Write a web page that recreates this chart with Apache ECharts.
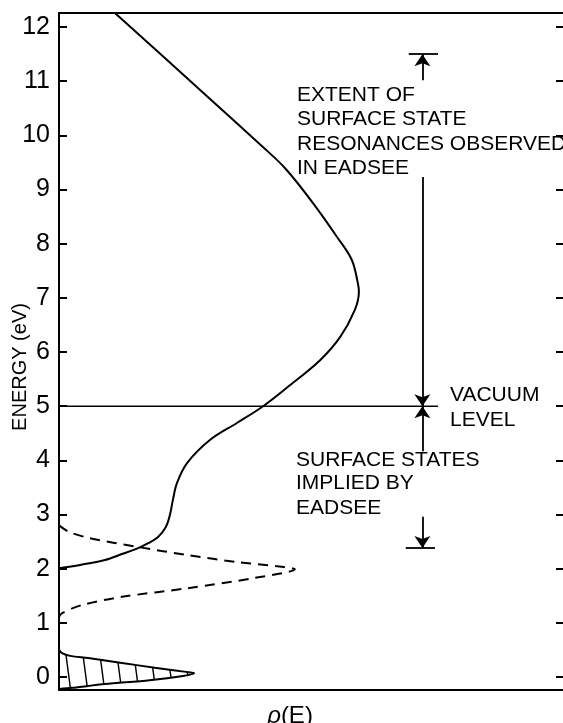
<!DOCTYPE html>
<html><head><meta charset="utf-8">
<script src="https://cdn.jsdelivr.net/npm/echarts@6/dist/echarts.min.js"></script>
<style>html,body{margin:0;padding:0;background:#fff}#c{width:563px;height:723px}</style>
</head><body><div id="c"></div>
<script>
// ---- data ----
const energyTicks = [0,1,2,3,4,5,6,7,8,9,10,11,12];
// solid DOS curve: [rho, energy]
const mainCurve = [[1.11,12.26],[2.80,10.84],[4.03,9.80],[4.50,9.38],[5.04,8.75],[5.52,8.12],[5.81,7.70],[5.93,7.27],[5.95,7.11],[5.87,6.78],[5.58,6.28],[5.18,5.85],[4.52,5.34],[4.05,5.00],[3.53,4.69],[3.00,4.38],[2.54,3.95],[2.34,3.58],[2.26,3.27],[2.20,2.99],[2.12,2.77],[1.96,2.58],[1.77,2.47],[1.57,2.38],[1.25,2.27],[0.91,2.16],[0.42,2.07],[0,2.01]];
// dashed surface-state peak
const dashedCurve = [[0,2.80],[0.2,2.68],[0.58,2.57],[1.57,2.40],[2.56,2.25],[3.55,2.12],[4.29,2.05],[4.68,1.99],[3.89,1.83],[2.56,1.64],[1.25,1.48],[0.46,1.33],[0.06,1.18],[0,1.11]];
// hatched occupied band
const hatchTop = [[0,0.50],[0.06,0.44],[0.22,0.39],[0.58,0.35],[1.25,0.26],[1.90,0.17],[2.56,0.09],[2.68,0.07]];
const hatchBottom = [[2.46,0.02],[1.80,-0.06],[0.91,-0.13],[0.26,-0.20],[0,-0.22]];
const vacuumLevel = 5;
const resonanceRange = [5, 11.5];
const surfaceStateRange = [2.38, 5];

// ---- layout constants ----
const FONT = '"Liberation Sans", Arial, sans-serif';
const arrowX = 7.21;
const barHalf = 0.27;
const vacLineEnd = 7.52;

const hatchShape = hatchTop.concat(hatchBottom);

// hatch pattern
const W = 17, H = 128;
const cv = document.createElement('canvas');
cv.width = W; cv.height = H;
const cx = cv.getContext('2d');
cx.strokeStyle = '#000'; cx.lineWidth = 1.4;
for (let k = -2; k <= 1; k++) {
  cx.beginPath();
  cx.moveTo(13 + k*W, 0);
  cx.lineTo(13 + (k+1)*W, H);
  cx.stroke();
}

const chart = echarts.init(document.getElementById('c'), null, {renderer:'canvas'});
const blackLine = {color:'#000', width:2};
const option = {
  animation: false,
  backgroundColor: '#fff',
  grid: {left:59, right:0, top:13, bottom:33, containLabel:false},
  xAxis: [
    {type:'value', min:0, max:10, position:'bottom', axisLine:{show:true, onZero:false, lineStyle:blackLine}, axisTick:{show:false}, axisLabel:{show:false}, splitLine:{show:false}},
    {type:'value', min:0, max:10, position:'top', axisLine:{show:true, onZero:false, lineStyle:blackLine}, axisTick:{show:false}, axisLabel:{show:false}, splitLine:{show:false}}
  ],
  yAxis: [
    {type:'value', min:-0.24, max:12.26, position:'left',
     axisLine:{show:true, onZero:false, lineStyle:blackLine},
     axisTick:{show:true, inside:true, length:8, customValues:energyTicks, lineStyle:blackLine},
     axisLabel:{show:true, customValues:energyTicks, margin:9, fontSize:25, fontFamily:FONT, color:'#000'},
     splitLine:{show:false}},
    {type:'value', min:-0.24, max:12.26, position:'right',
     axisLine:{show:false, onZero:false},
     axisTick:{show:true, inside:true, length:7, customValues:energyTicks, lineStyle:blackLine},
     axisLabel:{show:false}, splitLine:{show:false}}
  ],
  series: [
    {type:'custom', coordinateSystem:'cartesian2d', data:hatchShape, z:1, silent:true,
     encode:{x:0, y:1},
     renderItem: function(params, api){
       if (params.dataIndex !== 0) return null;
       const pts = hatchShape.map(p => api.coord(p));
       return {type:'polygon', shape:{points:pts}, style:{fill:{image:cv, repeat:'repeat'}, stroke:null}};
     }},
    {type:'line', data:hatchShape, showSymbol:false, smooth:0.3, lineStyle:{color:'#000', width:2}, z:3, silent:true},
    {type:'line', data:mainCurve, showSymbol:false, smooth:0.35, lineStyle:{color:'#000', width:2}, z:3, silent:true},
    {type:'line', data:dashedCurve, showSymbol:false, smooth:0.3, lineStyle:{color:'#000', width:2, type:[10,7]}, z:3, silent:true},
    {type:'line', data:[[0,vacuumLevel],[vacLineEnd,vacuumLevel]], showSymbol:false, lineStyle:{color:'#000', width:1.5}, z:3, silent:true,
     markLine:{silent:true, symbol:['none','arrow'], symbolSize:12, label:{show:false},
       lineStyle:{color:'#000', width:1.8, type:'solid'},
       data:[
         [{coord:[arrowX, 11.02], symbol:'none'}, {coord:[arrowX, resonanceRange[1]], symbol:'arrow'}],
         [{coord:[arrowX, 9.23], symbol:'none'}, {coord:[arrowX, resonanceRange[0]], symbol:'arrow'}],
         [{coord:[arrowX, 4.17], symbol:'none'}, {coord:[arrowX, surfaceStateRange[1]], symbol:'arrow'}],
         [{coord:[arrowX, 2.96], symbol:'none'}, {coord:[arrowX, surfaceStateRange[0]], symbol:'arrow'}],
         [{coord:[arrowX-barHalf, resonanceRange[1]], symbol:'none'}, {coord:[arrowX+barHalf+0.04, resonanceRange[1]], symbol:'none'}],
         [{coord:[arrowX-barHalf-0.06, surfaceStateRange[0]], symbol:'none'}, {coord:[arrowX+barHalf-0.02, surfaceStateRange[0]], symbol:'none'}]
       ]}}
  ],
  graphic: {elements: [
    {type:'text', x:297, y:95.5, style:{text:'EXTENT OF', font:'21px '+FONT, fill:'#000', textAlign:'left', textVerticalAlign:'middle'}},
    {type:'text', x:297, y:119.5, style:{text:'SURFACE STATE', font:'21px '+FONT, fill:'#000', textAlign:'left', textVerticalAlign:'middle'}},
    {type:'text', x:297, y:144, style:{text:'RESONANCES OBSERVED', font:'21px '+FONT, fill:'#000', textAlign:'left', textVerticalAlign:'middle'}},
    {type:'text', x:297, y:168, style:{text:'IN EADSEE', font:'21px '+FONT, fill:'#000', textAlign:'left', textVerticalAlign:'middle'}},
    {type:'text', x:450, y:395.5, style:{text:'VACUUM', font:'21px '+FONT, fill:'#000', textAlign:'left', textVerticalAlign:'middle'}},
    {type:'text', x:450, y:420.5, style:{text:'LEVEL', font:'21px '+FONT, fill:'#000', textAlign:'left', textVerticalAlign:'middle'}},
    {type:'text', x:296, y:460.5, style:{text:'SURFACE STATES', font:'21px '+FONT, fill:'#000', textAlign:'left', textVerticalAlign:'middle'}},
    {type:'text', x:296, y:483.5, style:{text:'IMPLIED BY', font:'21px '+FONT, fill:'#000', textAlign:'left', textVerticalAlign:'middle'}},
    {type:'text', x:296, y:508.5, style:{text:'EADSEE', font:'21px '+FONT, fill:'#000', textAlign:'left', textVerticalAlign:'middle'}},
    {type:'text', x:20, y:367, rotation:Math.PI/2, style:{text:'ENERGY (eV)', font:'20px '+FONT, fill:'#000', textAlign:'center', textVerticalAlign:'middle'}},
    {type:'text', x:290, y:716, style:{text:'{i|ρ}(E)', font:'24px '+FONT, fill:'#000', textAlign:'center', textVerticalAlign:'middle',
      rich:{i:{fontStyle:'italic', fontSize:24, fontFamily:FONT}}}}
  ]}
};
chart.setOption(option);
</script>
</body></html>
